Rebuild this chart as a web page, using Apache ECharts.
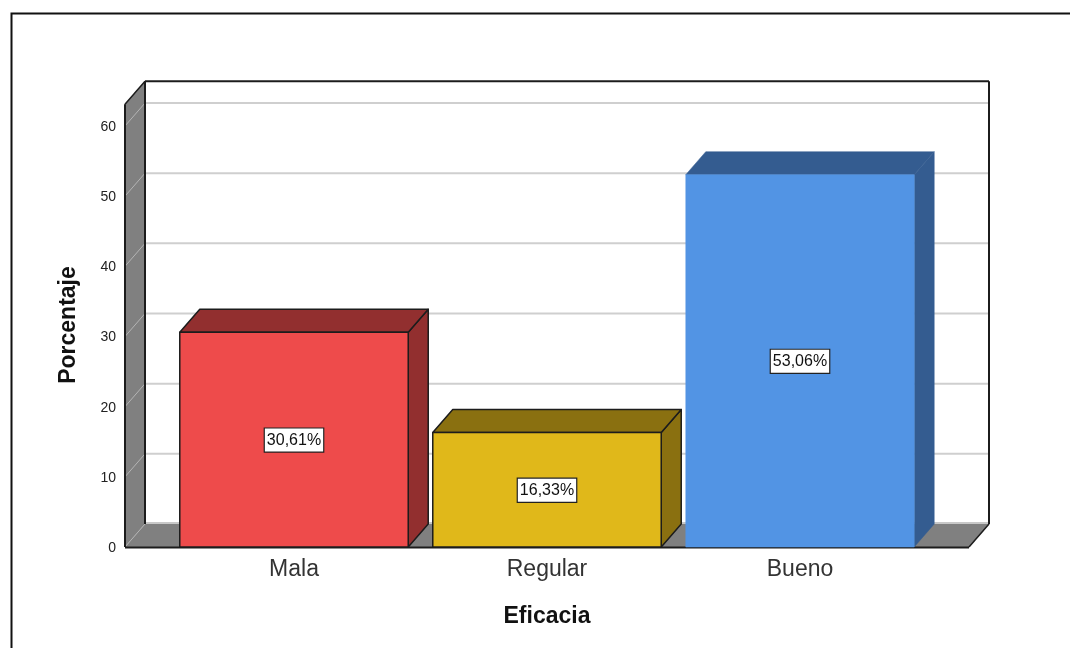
<!DOCTYPE html>
<html><head><meta charset="utf-8">
<script src="https://cdn.jsdelivr.net/npm/echarts@6/dist/echarts.min.js"></script>
<style>html,body{margin:0;padding:0;background:#fff}#c{width:1070px;height:648px}</style>
</head><body><div id="c"></div>
<script>
const categories = ['Mala', 'Regular', 'Bueno'];
const values = [30.61, 16.33, 53.06];
const yTicks = [0, 10, 20, 30, 40, 50, 60];
const frontColors = ['#EE4B4B', '#E0B81A', '#5294E4'];
const shadeColors = ['#922F2F', '#8A7010', '#345C90'];
const edgeColors = ['#1c1c1c', '#1c1c1c', null];

const DX = 20, DY = -23, MARGIN = 42.5, WALL_TOP = 63.1, BAR_RATIO = 0.903;
const LINE = '#1c1c1c';

function poly(points, fill, stroke, z) {
  return { type: 'polygon', z2: z || 0, shape: { points },
    style: { fill, stroke: stroke || fill, lineWidth: stroke ? 1.5 : 0.5, lineJoin: 'round' } };
}
function line(a, b, stroke, w, z) {
  return { type: 'line', z2: z || 0, shape: { x1: a[0], y1: a[1], x2: b[0], y2: b[1] },
    style: { stroke, lineWidth: w } };
}

function renderWalls(params, api) {
  const band = api.size([1, 0])[0];
  const x0 = api.coord([0, 0])[0] - band / 2 - MARGIN;
  const x1 = api.coord([2, 0])[0] + band / 2 + MARGIN;
  const y0 = api.coord([0, 0])[1];
  const yT = api.coord([0, WALL_TOP])[1];
  const ch = [];
  ch.push(poly([[x0, y0], [x0 + DX, y0 + DY], [x0 + DX, yT + DY], [x0, yT]], '#808080'));
  ch.push(poly([[x0, y0], [x0 + DX, y0 + DY], [x1 + DX, y0 + DY], [x1, y0]], '#808080'));
  yTicks.forEach(t => {
    const y = api.coord([0, t])[1];
    if (t > 0) ch.push(line([x0 + DX, y + DY], [x1 + DX, y + DY], '#cfcfcf', 2));
    ch.push(line([x0, y], [x0 + DX, y + DY], '#b4b4b4', 1, 1));
  });
  ch.push(line([x0 + DX, y0 + DY - 1], [x1 + DX, y0 + DY - 1], '#c8c8c8', 2, 1));
  ch.push(line([x0, y0 + 0.5], [x1, y0 + 0.5], LINE, 2, 2));
  ch.push(line([x0, y0], [x0, yT], LINE, 2, 2));
  ch.push(line([x0, yT], [x0 + DX, yT + DY], LINE, 1.5, 2));
  ch.push(line([x0 + DX, yT + DY], [x1 + DX, yT + DY], LINE, 2, 2));
  ch.push(line([x1 + DX, yT + DY], [x1 + DX, y0 + DY], LINE, 2, 2));
  ch.push(line([x1 + DX, y0 + DY], [x1, y0], LINE, 1.5, 2));
  ch.push(line([x0 + DX, yT + DY], [x0 + DX, y0 + DY], LINE, 2, 2));
  return { type: 'group', children: ch };
}

function renderBar(params, api) {
  const i = params.dataIndex;
  const band = api.size([1, 0])[0];
  const w = band * BAR_RATIO;
  const c = api.coord([i, api.value(1)]);
  const base = api.coord([i, 0])[1];
  const l = c[0] - w / 2, r = c[0] + w / 2, t = c[1];
  const edge = edgeColors[i];
  const mk = (pts, fill) => ({ type: 'polygon', shape: { points: pts },
    style: { fill, stroke: edge || fill, lineWidth: edge ? 1.5 : 0.5, lineJoin: 'round' } });
  return { type: 'group', children: [
    mk([[r, base], [r + DX, base + DY], [r + DX, t + DY], [r, t]], shadeColors[i]),
    mk([[l, t], [l + DX, t + DY], [r + DX, t + DY], [r, t]], shadeColors[i]),
    mk([[l, t], [r, t], [r, base], [l, base]], frontColors[i]),
    { type: 'text', z2: 5, style: {
        x: c[0], y: (t + base) / 2 + 0.5, align: 'center', verticalAlign: 'middle',
        text: values[i].toFixed(2).replace('.', ',') + '%',
        font: '16px "Liberation Sans", Arial, sans-serif', fill: '#111',
        backgroundColor: '#fff', borderColor: '#222', borderWidth: 1.2,
        padding: [4, 2, 3, 2] } }
  ] };
}

const chart = echarts.init(document.getElementById('c'), null, { renderer: 'canvas' });
chart.setOption({
  animation: false,
  backgroundColor: '#fff',
  grid: { left: 167.5, width: 759, top: 126, height: 421, containLabel: false },
  xAxis: {
    type: 'category', data: categories,
    name: 'Eficacia', nameLocation: 'middle', nameGap: 58,
    nameTextStyle: { fontFamily: 'Liberation Sans', fontSize: 23, fontWeight: 'bold', color: '#111' },
    axisLine: { show: false }, axisTick: { show: false },
    axisLabel: { fontFamily: 'Liberation Sans', fontSize: 23, color: '#333', margin: 11 }
  },
  yAxis: {
    type: 'value', min: 0, max: 60, interval: 10, offset: 42.5,
    name: 'Porcentaje', nameLocation: 'middle', nameGap: 45,
    nameTextStyle: { fontFamily: 'Liberation Sans', fontSize: 23, fontWeight: 'bold', color: '#111', padding: [0, 0, 0, 23] },
    axisLine: { show: false }, axisTick: { show: false }, splitLine: { show: false },
    axisLabel: { fontFamily: 'Liberation Sans', fontSize: 14, color: '#222', margin: 9, verticalAlign: 'top', lineHeight: 16, padding: [-7, 0, 0, 0] }
  },
  graphic: [{
    type: 'polyline', silent: true,
    shape: { points: [[11.5, 648], [11.5, 13.5], [1070, 13.5]] },
    style: { fill: 'none', stroke: '#111', lineWidth: 2 }
  }],
  series: [
    { type: 'custom', name: 'walls', z: 1, clip: false, silent: true, renderItem: renderWalls,
      data: [[0, 0]], encode: { x: 0, y: 1 } },
    { type: 'custom', name: 'Porcentaje', z: 2, clip: false, renderItem: renderBar,
      data: values.map((v, i) => [i, v]), encode: { x: 0, y: 1 } }
  ]
});
</script></body></html>
